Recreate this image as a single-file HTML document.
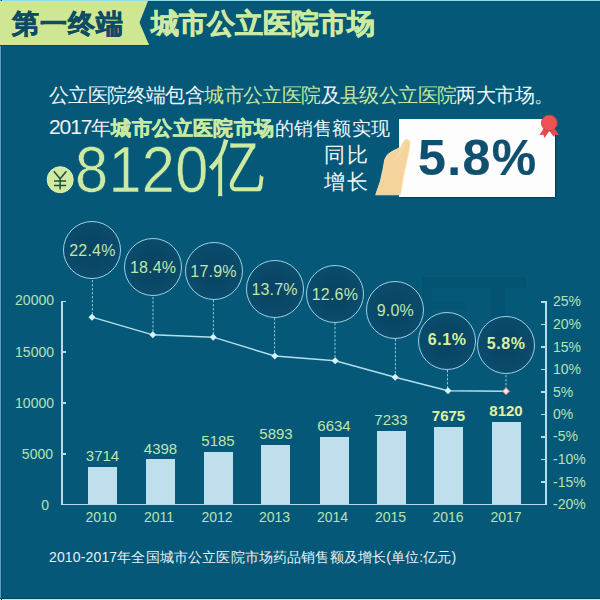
<!DOCTYPE html>
<html><head><meta charset="utf-8">
<style>
html,body{margin:0;padding:0;}
body{width:600px;height:600px;overflow:hidden;position:relative;background:#055878;font-family:"Liberation Sans",sans-serif;}
.a{position:absolute;white-space:nowrap;line-height:1;}
.w{color:#eef6f8;}
.g{color:#c4e6a2;}
.yl{position:absolute;color:#b6e2b2;font-size:14px;line-height:14px;text-align:right;width:50px;}
.rl{position:absolute;color:#b6e2b2;font-size:14px;line-height:14px;left:553px;}
.bar{position:absolute;background:#bfdfec;width:29px;bottom:96px;}
.bv{position:absolute;color:#bfe6aa;font-size:15px;line-height:15px;width:60px;text-align:center;}
.yr{position:absolute;color:#b8e3b0;font-size:14px;line-height:14px;width:60px;text-align:center;top:510px;}
.bub{position:absolute;width:58px;height:58px;border-radius:50%;box-sizing:border-box;border:1.2px solid #9dd0e4;
 background:radial-gradient(circle at 50% 50%,#094361 0%,#0a4a6a 60%,#0d5574 100%);
 color:#bfe6ac;font-size:16px;line-height:57px;text-align:center;letter-spacing:0.2px;}
.bub b{color:#d8f0a2;position:relative;top:-2px;letter-spacing:0.6px;}
</style></head><body>

<!-- top edge -->
<div class="a" style="left:0;top:0;width:600px;height:1px;background:#8fe0ee"></div>
<div class="a" style="left:0;top:0;width:1px;height:600px;background:#5d9fc0"></div>
<div class="a" style="left:0;top:1px;width:600px;height:1px;background:#08506c"></div>
<div class="a" style="left:0;top:598px;width:600px;height:1px;background:#03445e"></div>
<div class="a" style="left:0;top:599px;width:600px;height:1px;background:#a8f0f6"></div>
<div class="a" style="left:1px;top:0;width:1px;height:600px;background:#034e6e"></div>

<!-- header band -->
<svg class="a" style="left:0;top:1px" width="160" height="44">
 <polygon points="0,0 148,0 139.5,21.5 149,44 0,44" fill="#cfe792"/>
 <line x1="0" y1="42.5" x2="148.5" y2="42.5" stroke="#c6ecae" stroke-width="1"/>
</svg>
<div class="a" style="left:0;top:45px;width:152px;height:1.2px;background:#0a4a5e"></div>
<div class="a" style="left:12px;top:11px;font-size:27px;font-weight:bold;color:#0d4c64;-webkit-text-stroke:0.6px #0d4c64;letter-spacing:0.9px;">第一终端</div>
<div class="a" style="left:150.5px;top:9.5px;font-size:27.5px;font-weight:bold;color:#cdeaa2;-webkit-text-stroke:0.6px #cdeaa2;">城市公立医院市场</div>

<!-- intro text -->
<div class="a w" style="left:49px;top:85.5px;font-size:19.8px;letter-spacing:-0.6px;">公立医院终端包含<span class="g">城市公立医院</span>及<span class="g">县级公立医院</span>两大市场。</div>
<div class="a w" style="left:49px;top:117px;font-size:19.5px;"><span style="font-size:21px;letter-spacing:-1.1px;position:relative;top:-1px">2017</span>年<b class="g" style="-webkit-text-stroke:0.5px #c8e9a2;color:#c8e9a2;letter-spacing:0.4px">城市公立医院市场</b><span style="font-size:19px;letter-spacing:0.25px">的销售额实现</span></div>

<!-- yen -->
<svg class="a" style="left:40px;top:160px" width="40" height="40">
 <circle cx="20.2" cy="19.7" r="13" fill="#d0eaa0" stroke="#dcf2bc" stroke-width="1"/>
 <path d="M13.8,11.3 L20.1,18.8 L26.4,11.3 M20.1,18.8 L20.1,29.6 M14,21.1 L26.1,21.1 M14,25.4 L26.1,25.4" fill="none" stroke="#1f4d3e" stroke-width="1.5"/>
</svg>
<div class="a g" style="left:75px;top:138px;font-size:64px;color:#cdeaa2;transform:scaleX(0.93);transform-origin:0 0;letter-spacing:0.3px;-webkit-text-stroke:0.6px #055878">8120</div>
<div class="a g" style="left:209px;top:136px;font-size:55px;color:#cdeaa2;transform:scaleY(1.12);transform-origin:0 0">亿</div>

<!-- same-period -->
<div class="a w" style="left:324px;top:144px;font-size:21px;letter-spacing:1.8px;">同比</div>
<div class="a w" style="left:324px;top:171px;font-size:21px;letter-spacing:1.8px;">增长</div>

<!-- card -->
<div class="a" style="left:399px;top:119px;width:156px;height:77.5px;background:#fdfdfd;box-shadow:1px 1px 1px rgba(0,30,50,0.45)"></div>
<div class="a" style="left:418px;top:132.5px;font-size:50px;font-weight:bold;color:#10506f;letter-spacing:1.4px;-webkit-text-stroke:0.2px #10506f">5.8%</div>
<!-- hand -->
<svg class="a" style="left:370px;top:130px" width="50" height="70">
 <path d="M5.7,64.8 L10.3,51.5 Q13.5,38 14.8,29.5 Q16.5,24 22,21.5 L31,17 Q33,11 35.5,9.6 Q39.5,9 40,13 Q40,19 37.5,28 Q33.5,45 30.5,64.8 Z" fill="#f5d49c" stroke="#f9e4bb" stroke-width="0.9"/>
 <path d="M34.5,15 Q30,25 23.5,31" fill="none" stroke="#f9e0b0" stroke-width="1"/>
</svg>
<!-- ribbon -->
<svg class="a" style="left:530px;top:105px" width="40" height="40">
 <path d="M14.5,22 L9.5,30 L13.5,29.8 L14.5,33 L20,25 Z" fill="#e04c50"/>
 <path d="M24,22 L29,30 L25,29.8 L24,32 L18.5,25 Z" fill="#e04c50"/>
 <circle cx="19.3" cy="18" r="7.9" fill="#ee5253" stroke="#c63e44" stroke-width="0.8"/>
</svg>
<!-- watermark -->
<div class="a" style="left:422px;top:276.5px;width:104px;height:11px;background:rgba(0,25,45,0.075)"></div>
<div class="a" style="left:491px;top:287.5px;width:14px;height:58px;background:rgba(0,25,45,0.075)"></div>
<div class="a" style="left:422px;top:287.5px;width:10px;height:58px;background:rgba(0,25,45,0.05)"></div>
<div class="a" style="left:432px;top:302px;width:34px;height:8px;background:rgba(0,25,45,0.05)"></div>
<!-- axes -->
<div class="a" style="left:61px;top:301px;width:1.5px;height:204px;background:#b7dbe8"></div>
<div class="a" style="left:61px;top:503.5px;width:485.8px;height:1.5px;background:#b7dbe8"></div>
<div class="a" style="left:545.3px;top:301px;width:1.5px;height:204px;background:#b7dbe8"></div>
<!-- left ticks -->
<div class="a" style="left:61px;top:300.5px;width:5px;height:1.5px;background:#b7dbe8"></div>
<div class="a" style="left:61px;top:351px;width:5px;height:1.5px;background:#b7dbe8"></div>
<div class="a" style="left:61px;top:402px;width:5px;height:1.5px;background:#b7dbe8"></div>
<div class="a" style="left:61px;top:453px;width:5px;height:1.5px;background:#b7dbe8"></div>
<!-- right ticks -->
<div class="a" style="left:541px;top:301px;width:5px;height:1.5px;background:#b7dbe8"></div>
<div class="a" style="left:541px;top:323.5px;width:5px;height:1.5px;background:#b7dbe8"></div>
<div class="a" style="left:541px;top:346px;width:5px;height:1.5px;background:#b7dbe8"></div>
<div class="a" style="left:541px;top:368.5px;width:5px;height:1.5px;background:#b7dbe8"></div>
<div class="a" style="left:541px;top:391px;width:5px;height:1.5px;background:#b7dbe8"></div>
<div class="a" style="left:541px;top:413.5px;width:5px;height:1.5px;background:#b7dbe8"></div>
<div class="a" style="left:541px;top:436px;width:5px;height:1.5px;background:#b7dbe8"></div>
<div class="a" style="left:541px;top:458.5px;width:5px;height:1.5px;background:#b7dbe8"></div>
<div class="a" style="left:541px;top:481px;width:5px;height:1.5px;background:#b7dbe8"></div>

<!-- left labels -->
<div class="yl" style="left:4px;top:293px">20000</div>
<div class="yl" style="left:4px;top:345px">15000</div>
<div class="yl" style="left:4px;top:396px">10000</div>
<div class="yl" style="left:3px;top:447px">5000</div>
<div class="yl" style="left:-1px;top:498px">0</div>
<!-- right labels -->
<div class="rl" style="top:294px">25%</div>
<div class="rl" style="top:317px">20%</div>
<div class="rl" style="top:340px">15%</div>
<div class="rl" style="top:362px">10%</div>
<div class="rl" style="top:385px">5%</div>
<div class="rl" style="top:407px">0%</div>
<div class="rl" style="top:429px">-5%</div>
<div class="rl" style="top:452px">-10%</div>
<div class="rl" style="top:475px">-15%</div>
<div class="rl" style="top:497px">-20%</div>

<!-- bars -->
<div class="bar" style="left:88px;height:37.5px"></div>
<div class="bar" style="left:146px;height:45px"></div>
<div class="bar" style="left:203.5px;height:52.5px"></div>
<div class="bar" style="left:261px;height:59.5px"></div>
<div class="bar" style="left:319.5px;height:67px"></div>
<div class="bar" style="left:376.5px;height:73.5px"></div>
<div class="bar" style="left:434px;height:77.5px"></div>
<div class="bar" style="left:491.5px;height:82.5px"></div>

<!-- bar values -->
<div class="bv" style="left:72.5px;top:448px">3714</div>
<div class="bv" style="left:130.5px;top:441px">4398</div>
<div class="bv" style="left:188px;top:433px">5185</div>
<div class="bv" style="left:246px;top:426px">5893</div>
<div class="bv" style="left:304px;top:418px">6634</div>
<div class="bv" style="left:361px;top:412px">7233</div>
<div class="bv" style="left:418.5px;top:408px;font-weight:bold;color:#e2f0a0">7675</div>
<div class="bv" style="left:476px;top:403px;font-weight:bold;color:#e2f0a0">8120</div>

<!-- years -->
<div class="yr" style="left:71px">2010</div>
<div class="yr" style="left:129px">2011</div>
<div class="yr" style="left:187px">2012</div>
<div class="yr" style="left:244.5px">2013</div>
<div class="yr" style="left:302.5px">2014</div>
<div class="yr" style="left:360.5px">2015</div>
<div class="yr" style="left:418px">2016</div>
<div class="yr" style="left:476px">2017</div>

<!-- line chart -->
<svg class="a" style="left:0;top:0" width="600" height="600">
 <g stroke="#8cc6dc" stroke-width="1" stroke-dasharray="2.4,1.6" fill="none">
  <line x1="92.4" y1="280" x2="92.4" y2="317"/>
  <line x1="153" y1="297" x2="153" y2="335"/>
  <line x1="213.4" y1="300" x2="213.4" y2="337"/>
  <line x1="274.6" y1="318" x2="274.6" y2="356"/>
  <line x1="335" y1="323" x2="335" y2="361"/>
  <line x1="395.4" y1="339" x2="395.4" y2="377"/>
  <line x1="447.5" y1="370" x2="447.5" y2="391"/>
  <line x1="506" y1="375" x2="506" y2="391"/>
 </g>
 <polyline points="92,317.2 152.8,334.8 213.2,337.2 274.8,356 335.2,360.8 395.2,377.2 448,390.8 506,391.2" fill="none" stroke="#b4e0ee" stroke-width="1.4"/>
 <g fill="#d6f2fa">
  <path d="M92,313.7 L95.5,317.2 L92,320.7 L88.5,317.2Z"/>
  <path d="M152.8,331.3 L156.3,334.8 L152.8,338.3 L149.3,334.8Z"/>
  <path d="M213.2,333.7 L216.7,337.2 L213.2,340.7 L209.7,337.2Z"/>
  <path d="M274.8,352.5 L278.3,356 L274.8,359.5 L271.3,356Z"/>
  <path d="M335.2,357.3 L338.7,360.8 L335.2,364.3 L331.7,360.8Z"/>
  <path d="M395.2,373.7 L398.7,377.2 L395.2,380.7 L391.7,377.2Z"/>
  <path d="M448,387.3 L451.5,390.8 L448,394.3 L444.5,390.8Z"/>
 </g>
 <path d="M506,387.7 L509.5,391.2 L506,394.7 L502.5,391.2Z" fill="#fbe9ee" stroke="#e07080" stroke-width="1"/>
</svg>

<!-- bubbles -->
<div class="bub" style="left:63.4px;top:221.4px">22.4%</div>
<div class="bub" style="left:124.1px;top:238.1px">18.4%</div>
<div class="bub" style="left:184.5px;top:241.9px">17.9%</div>
<div class="bub" style="left:245.6px;top:260px">13.7%</div>
<div class="bub" style="left:305.9px;top:265px">12.6%</div>
<div class="bub" style="left:366.4px;top:280.6px">9.0%</div>
<div class="bub" style="left:418.2px;top:312px"><b>6.1%</b></div>
<div class="bub" style="left:477.2px;top:316.4px"><b>5.8%</b></div>

<!-- caption -->
<div class="a w" style="left:49px;top:550px;font-size:14px;letter-spacing:0.15px;color:#e6f2f6">2010-2017年全国城市公立医院市场药品销售额及增长(单位:亿元)</div>

</body></html>
